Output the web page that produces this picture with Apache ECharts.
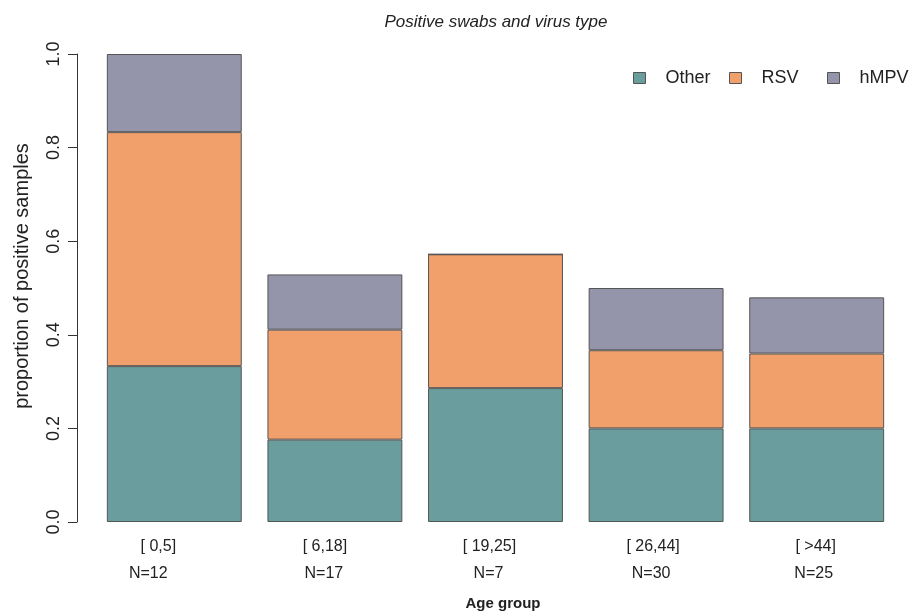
<!DOCTYPE html>
<html><head><meta charset="utf-8">
<script src="https://cdn.jsdelivr.net/npm/echarts@6/dist/echarts.min.js"></script>
<style>html,body{margin:0;padding:0;background:#fff}#c{width:909px;height:613px}</style>
</head><body><div id="c"></div>
<script>
const categories = ['[ 0,5]', '[ 6,18]', '[ 19,25]', '[ 26,44]', '[ >44]'];
const sampleSizes = ['N=12', 'N=17', 'N=7', 'N=30', 'N=25'];
const other = [0.333, 0.176, 0.286, 0.200, 0.200];
const rsv = [0.500, 0.235, 0.286, 0.167, 0.160];
const hmpv = [0.167, 0.118, 0, 0.133, 0.120];
const yTicks = [0, 0.2, 0.4, 0.6, 0.8, 1.0];
const seriesNames = ['Other', 'RSV', 'hMPV'];

// label nudges (px, shift to the left) to mimic the reference text placement
const catShift = [16, 10, 6, 3, 1];
const nShift = [26, 11, 7, 5, 3];

const colors = ['#6a9e9e', '#f2a06b', '#9495aa'];
const font = 'Liberation Sans, Arial, sans-serif';

const rich = {};
categories.forEach((c, i) => {
  rich['c' + i] = { fontFamily: font, fontSize: 16, color: '#222', lineHeight: 27, padding: [0, 2 * catShift[i], 0, 0] };
  rich['n' + i] = { fontFamily: font, fontSize: 16, color: '#222', lineHeight: 27, padding: [0, 2 * nShift[i], 0, 0] };
});

const legendLefts = [628, 724, 822];
const legends = seriesNames.map((n, i) => ({
  left: legendLefts[i], top: 64, itemWidth: 12, itemHeight: 11,
  icon: 'rect', selectedMode: false,
  itemStyle: { borderColor: '#555', borderWidth: 1 },
  textStyle: { fontFamily: font, fontSize: 18, color: '#222', padding: [0, 0, 0, 15] },
  data: [n]
}));

const chart = echarts.init(document.getElementById('c'), null, { renderer: 'canvas' });
chart.setOption({
  animation: false,
  title: {
    text: 'Positive swabs and virus type',
    left: 491, top: 9, textAlign: 'center',
    textStyle: { fontFamily: font, fontStyle: 'italic', fontWeight: 'normal', fontSize: 17, color: '#222' }
  },
  legend: legends,
  grid: { left: 94, right: 12, top: 54, bottom: 91, containLabel: false, outerBoundsMode: 'none' },
  xAxis: {
    type: 'category', data: categories,
    axisLine: { show: false }, axisTick: { show: false },
    axisLabel: {
      margin: 11, interval: 0,
      formatter: (v, i) => '{c' + i + '|' + v + '}\n{n' + i + '|' + sampleSizes[i] + '}',
      rich: rich
    },
    name: 'Age group', nameLocation: 'middle', nameGap: 74,
    nameTextStyle: { fontFamily: font, fontWeight: 'bold', fontSize: 15, color: '#222', padding: [0, 0, 0, 15] }
  },
  yAxis: {
    type: 'value', min: 0, max: 1, interval: 0.2, offset: 17,
    axisLine: { show: true, lineStyle: { color: '#333', width: 1 } },
    axisTick: { show: true, length: 9, lineStyle: { color: '#333' } },
    splitLine: { show: false },
    axisLabel: {
      rotate: 90, margin: 14, fontFamily: font, fontSize: 18, color: '#222',
      formatter: v => yTicks.some(t => Math.abs(t - v) < 1e-9) ? v.toFixed(1) : ''
    },
    name: 'proportion of positive samples', nameLocation: 'middle', nameGap: 45, nameRotate: 90,
    nameTextStyle: { fontFamily: font, fontSize: 20, color: '#222', padding: [0, 0, 0, 24] }
  },
  series: [other, rsv, hmpv].map((d, i) => ({
    name: seriesNames[i], type: 'bar', stack: 's', data: d, barWidth: '84%',
    itemStyle: { color: colors[i], borderColor: '#555', borderWidth: 1 }
  }))
});
</script></body></html>
